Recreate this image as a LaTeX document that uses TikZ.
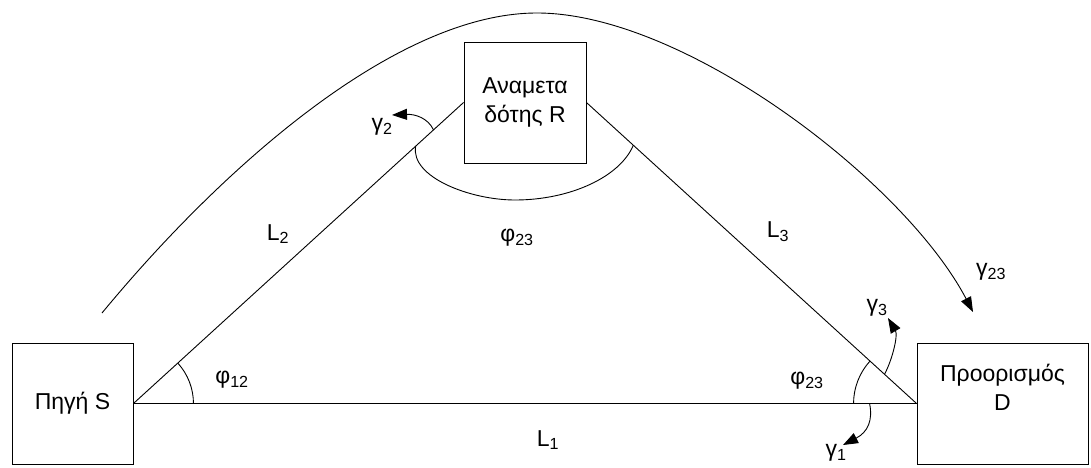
\documentclass[tikz,border=0pt]{standalone}
\usepackage{fontspec}
\setmainfont{Liberation Sans}
\usetikzlibrary{arrows.meta}
\begin{document}
\begin{tikzpicture}[x=1pt,y=1pt,line width=0.9pt,
  boxnode/.style={draw,minimum width=#1,minimum height=121pt,inner sep=0pt},
  lbl/.style={font=\fontsize{23}{29}\selectfont,inner sep=0pt,align=center},
  arr/.style={-{Triangle[length=15pt,width=11pt]}}]
\useasboundingbox (0,0) rectangle (1091,467);
% boxes
\node[boxnode=121pt] (S) at (72.5,63.5) {};
\node[boxnode=122pt] (R) at (525,364.5) {};
\node[boxnode=171pt] (D) at (1002.5,63.5) {};
\node[lbl] (tS) at (S.center) {Πηγή S};
\node[lbl] (tR) at (R.center) {Αναμετα\\δότης R};
\node[lbl] (tD) at (1002.5,80) {Προορισμός\\D};
% triangle sides
\draw (S.east) -- (D.west);
\draw (S.east) -- (R.west);
\draw (R.east) -- (D.west);
% coordinates on sides
\path (S.east) -- (R.west) coordinate[pos=0.855] (a2) coordinate[pos=0.909] (g2s);
\path (R.east) -- (D.west) coordinate[pos=0.142] (a3) coordinate[pos=0.903] (g3s);
\path (S.east) -- (D.west) coordinate[pos=0.94] (g1s);
% angle arcs
\draw ([xshift=60pt]S.east) arc[start angle=0,end angle=42.2,radius=60pt];
\draw ([xshift=-63pt]D.west) arc[start angle=180,end angle=137.8,radius=63pt];
\draw (a2) .. controls (410,290) and (470,267) .. (515,267)
           .. controls (570,267) and (620,290) .. (a3);
% big curve
\coordinate (bstart) at (102,154);
\coordinate (bend) at (973,155);
\draw[arr] (bstart) .. controls (220,297) and (395,454) .. (537,454)
                 .. controls (685,454) and (905,285) .. (bend);
% gamma arrows
\coordinate (g2e) at (392,352);
\coordinate (g3e) at (888,149);
\coordinate (g1e) at (843,22);
\draw[arr] (g2s) .. controls (428,349) and (415,353) .. (g2e);
\draw[arr] (g3s) .. controls (893,109) and (898,132) .. (g3e);
\draw[arr] (g1s) .. controls (873,47) and (868,35) .. (g1e);
% labels
\node[lbl] (L1) at (548,27) {L\textsubscript{1}};
\node[lbl] (L2) at (278,233) {L\textsubscript{2}};
\node[lbl] (L3) at (778,235) {L\textsubscript{3}};
\node[lbl] (p23m) at (517,229) {φ\textsubscript{23}};
\node[lbl] (p12) at (232,87) {φ\textsubscript{12}};
\node[lbl] (p23r) at (807,86) {φ\textsubscript{23}};
\node[lbl] (gl1) at (836,14) {γ\textsubscript{1}};
\node[lbl] (gl2) at (382,340) {γ\textsubscript{2}};
\node[lbl] (gl3) at (877,159) {γ\textsubscript{3}};
\node[lbl] (gl23) at (991,195) {γ\textsubscript{23}};
\end{tikzpicture}
\end{document}
